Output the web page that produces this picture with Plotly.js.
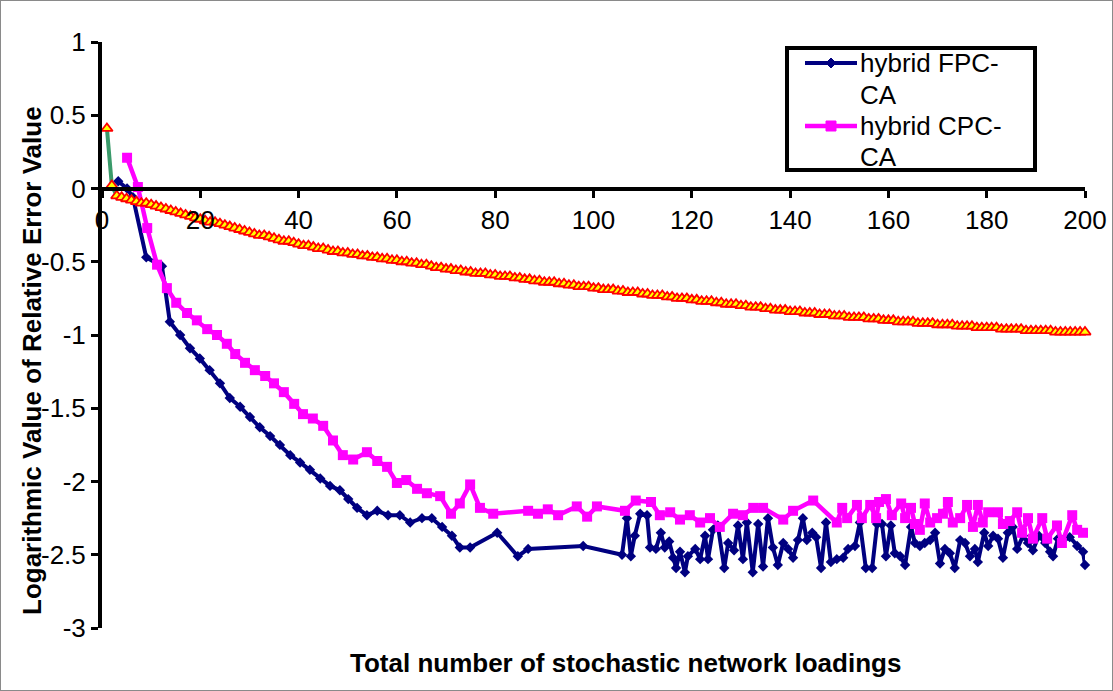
<!DOCTYPE html>
<html>
<head>
<meta charset="utf-8">
<script src="https://cdn.plot.ly/plotly-3.0.1.min.js"></script>
<style>
  html, body { margin: 0; padding: 0; background: #fff; }
  #chart { width: 1113px; height: 691px; }
  #frame { position: fixed; left: 0; top: 0; width: 1113px; height: 691px; box-sizing: border-box; border: 1px solid #8a8a8a; pointer-events: none; }
</style>
</head>
<body>
<div id="chart"></div>
<div id="frame"></div>
<script>
// ---------- data ----------
const fpcX = [3.3, 5.1, 6.3, 9.0, 12.2, 13.8, 15.9, 17.9, 19.9, 21.9, 24.0, 26.0, 28.1, 30.1, 32.1, 34.2, 36.2, 38.3, 40.3, 42.3,
  44.4, 46.4, 48.4, 50.1, 51.9, 53.9, 56.0, 58.2, 60.6, 62.7, 65.1, 67.1, 69.2, 71.2, 72.8, 74.9, 80.4, 84.6, 86.7,
  97.9, 105.8, 106.8, 107.6, 108.4, 109.5, 110.9, 111.5, 112.7, 113.7,
  114.5, 115.4, 116.2, 116.8, 117.6, 118.6, 119.2, 120.7, 121.7, 122.7,
  123.3, 124.3, 125.3, 126.6, 127.4, 128.6, 129.4, 130.4, 131.2, 132.4,
  133.5, 134.5, 135.5, 136.5, 137.5, 138.6, 139.6, 140.6, 141.6, 142.6,
  143.4, 144.5, 145.3, 146.3, 147.3, 148.3, 149.5, 150.8, 151.8, 153.2,
  154.2, 155.4, 156.7, 157.7, 158.7, 159.5, 160.5, 161.3, 162.4, 163.4,
  164.6, 165.4, 166.4, 167.4, 168.5, 169.5, 170.5, 171.5, 172.5, 173.5,
  174.6, 175.6, 176.6, 177.6, 178.2, 179.5, 180.3, 181.3, 182.3, 183.3,
  184.3, 185.3, 186.2, 187.4, 188.4, 189.4, 190.6, 191.9, 192.9, 193.5,
  194.5, 195.5, 196.9, 198.4, 199.6, 200];
const fpcY = [0.05, 0.0, -0.06, -0.47, -0.53, -0.91, -1.0, -1.09, -1.16, -1.24, -1.33, -1.43, -1.49, -1.56, -1.63, -1.69, -1.75, -1.82, -1.87, -1.92,
  -1.98, -2.03, -2.06, -2.12, -2.18, -2.23, -2.20, -2.23, -2.23, -2.28, -2.25, -2.25, -2.31, -2.37, -2.45, -2.45, -2.35, -2.51, -2.46,
  -2.44, -2.50, -2.25, -2.51, -2.37, -2.22, -2.23, -2.45, -2.46, -2.35,
  -2.45, -2.41, -2.52, -2.59, -2.48, -2.62, -2.51, -2.46, -2.53, -2.37,
  -2.53, -2.33, -2.30, -2.59, -2.42, -2.47, -2.30, -2.53, -2.28, -2.62,
  -2.29, -2.58, -2.25, -2.45, -2.57, -2.42, -2.46, -2.52, -2.40, -2.25,
  -2.40, -2.35, -2.38, -2.59, -2.28, -2.55, -2.53, -2.52, -2.46, -2.44,
  -2.28, -2.59, -2.59, -2.29, -2.29, -2.51, -2.30, -2.49, -2.51, -2.57,
  -2.31, -2.42, -2.44, -2.42, -2.40, -2.35, -2.56, -2.46, -2.49, -2.59,
  -2.40, -2.42, -2.51, -2.46, -2.55, -2.35, -2.44, -2.37, -2.39, -2.52,
  -2.35, -2.31, -2.46, -2.37, -2.42, -2.47, -2.37, -2.42, -2.48, -2.51,
  -2.39, -2.40, -2.38, -2.44, -2.48, -2.57];

const cpcX = [5.1, 7.3, 9.2, 11.2, 13.2, 15.1, 17.3, 19.3, 21.4, 23.4,
  25.4, 27.1, 29.1, 31.1, 33.2, 35.0, 37.0, 39.1, 40.9, 42.9,
  45.0, 47.0, 49.0, 51.1, 53.9, 56.0, 58.0, 60.0, 61.9, 64.1,
  66.1, 68.8, 71.0, 72.8, 74.9, 76.9, 79.6, 86.7, 88.7, 90.7,
  92.8, 96.6, 98.7, 100.7, 106.4, 108.6, 111.7, 113.5, 115.6, 117.6,
  119.6, 121.7, 123.7, 125.7, 128.4, 130.4, 132.5, 134.5, 138.6, 140.6,
  144.7, 149.5, 150.6, 151.6, 153.6, 154.6, 156.3, 157.5, 158.1, 159.5,
  160.7, 162.6, 163.4, 164.6, 165.4, 166.4, 167.4, 168.5, 169.9, 171.1,
  172.1, 173.1, 174.6, 176.0, 177.2, 178.2, 179.2, 180.3, 182.3, 183.3,
  184.7, 186.2, 187.2, 188.4, 189.4, 191.3, 192.3, 194.3, 195.3, 197.4,
  198.4, 199.6];
const cpcY = [0.21, 0.01, -0.27, -0.52, -0.68, -0.78, -0.85, -0.90, -0.96, -1.00,
  -1.06, -1.13, -1.19, -1.24, -1.28, -1.33, -1.39, -1.47, -1.54, -1.57,
  -1.62, -1.72, -1.82, -1.85, -1.80, -1.86, -1.90, -2.01, -1.99, -2.05,
  -2.08, -2.10, -2.22, -2.15, -2.02, -2.18, -2.22, -2.20, -2.22, -2.19,
  -2.23, -2.17, -2.24, -2.17, -2.20, -2.13, -2.14, -2.23, -2.21, -2.26,
  -2.23, -2.28, -2.25, -2.31, -2.22, -2.23, -2.18, -2.18, -2.26, -2.20,
  -2.13, -2.28, -2.18, -2.25, -2.16, -2.25, -2.16, -2.25, -2.14, -2.12,
  -2.23, -2.15, -2.25, -2.18, -2.29, -2.33, -2.15, -2.28, -2.25, -2.22,
  -2.14, -2.28, -2.25, -2.16, -2.31, -2.16, -2.28, -2.21, -2.21, -2.29,
  -2.27, -2.21, -2.35, -2.25, -2.39, -2.25, -2.39, -2.30, -2.42, -2.23,
  -2.33, -2.35];

// third (unlabelled) series, one value per loading 1..200
const triY = [0.41, 0.02, -0.05, -0.06, -0.07, -0.08, -0.09, -0.10, -0.10, -0.11,
  -0.12, -0.13, -0.14, -0.15, -0.16, -0.17, -0.18, -0.19, -0.20, -0.21,
  -0.22, -0.23, -0.23, -0.24, -0.25, -0.26, -0.27, -0.28, -0.29, -0.30,
  -0.31, -0.32, -0.32, -0.33, -0.34, -0.35, -0.36, -0.36, -0.37, -0.38,
  -0.39, -0.39, -0.40, -0.41, -0.41, -0.42, -0.43, -0.43, -0.44, -0.44,
  -0.45, -0.45, -0.46, -0.46, -0.47, -0.47, -0.48, -0.48, -0.49, -0.49,
  -0.50, -0.50, -0.51, -0.51, -0.52, -0.52, -0.53, -0.54, -0.54, -0.55,
  -0.55, -0.56, -0.56, -0.57, -0.57, -0.58, -0.58, -0.58, -0.59, -0.59,
  -0.60, -0.60, -0.60, -0.61, -0.61, -0.62, -0.62, -0.63, -0.63, -0.64,
  -0.64, -0.64, -0.65, -0.65, -0.66, -0.66, -0.67, -0.67, -0.67, -0.68,
  -0.68, -0.69, -0.69, -0.69, -0.70, -0.70, -0.71, -0.71, -0.71, -0.72,
  -0.72, -0.73, -0.73, -0.73, -0.74, -0.74, -0.75, -0.75, -0.75, -0.76,
  -0.76, -0.77, -0.77, -0.77, -0.78, -0.78, -0.79, -0.79, -0.79, -0.80,
  -0.80, -0.81, -0.81, -0.81, -0.82, -0.82, -0.83, -0.83, -0.83, -0.84,
  -0.84, -0.84, -0.85, -0.85, -0.85, -0.86, -0.86, -0.86, -0.87, -0.87,
  -0.87, -0.88, -0.88, -0.88, -0.88, -0.89, -0.89, -0.89, -0.90, -0.90,
  -0.90, -0.91, -0.91, -0.91, -0.91, -0.92, -0.92, -0.92, -0.92, -0.93,
  -0.93, -0.93, -0.93, -0.94, -0.94, -0.94, -0.94, -0.95, -0.95, -0.95,
  -0.95, -0.95, -0.96, -0.96, -0.96, -0.96, -0.96, -0.97, -0.97, -0.97,
  -0.97, -0.97, -0.97, -0.98, -0.98, -0.98, -0.98, -0.98, -0.98, -0.98];
const triX = triY.map((_, i) => i + 1);

const seriesNames = ['hybrid FPC-CA', 'hybrid CPC-CA'];
const legendLines = [['hybrid FPC-', 'CA'], ['hybrid CPC-', 'CA']];
const xTickVals = [0, 20, 40, 60, 80, 100, 120, 140, 160, 180, 200];
const yTickVals = [-3, -2.5, -2, -1.5, -1, -0.5, 0, 0.5, 1];
const yTickText = ['-3', '-2.5', '-2', '-1.5', '-1', '-0.5', '0', '0.5', '1'];
const xTitle = 'Total number of stochastic network loadings';
const yTitle = 'Logarithmic Value of Relative Error Value';

// ---------- chart ----------
const FONT = 'Arial, "Liberation Sans", sans-serif';
const NAVY = '#000080', MAGENTA = '#ff00ff';

const traces = [
  {
    x: fpcX, y: fpcY, name: seriesNames[0], type: 'scatter', mode: 'lines+markers',
    line: { color: NAVY, width: 4 },
    marker: { symbol: 'diamond', size: 8, color: NAVY },
    cliponaxis: false
  },
  {
    x: cpcX, y: cpcY, name: seriesNames[1], type: 'scatter', mode: 'lines+markers',
    line: { color: MAGENTA, width: 4.5 },
    marker: { symbol: 'square', size: 10, color: MAGENTA },
    cliponaxis: false
  },
  {
    x: triX, y: triY, name: 'series 3', type: 'scatter', mode: 'lines+markers',
    line: { color: '#3a9a6a', width: 4 },
    marker: { symbol: 'triangle-up', size: 10, color: '#ffff00', line: { color: '#ff0000', width: 1.8 } },
    cliponaxis: false
  }
];

// legend box, drawn in pixel units on an invisible overlay axis pair
const LX0 = 787, LX1 = 1035, LY0 = 48, LY1 = 170;
const rowY = [[63, 95], [126, 157]];
const shapes = [
  { type: 'rect', xref: 'x2', yref: 'y2', x0: LX0, x1: LX1, y0: LY0, y1: LY1,
    line: { color: '#000000', width: 4 }, fillcolor: '#ffffff', layer: 'above' },
  { type: 'line', xref: 'x2', yref: 'y2', x0: 805, x1: 857, y0: rowY[0][0], y1: rowY[0][0],
    line: { color: NAVY, width: 4 }, layer: 'above' },
  { type: 'path', xref: 'x2', yref: 'y2', layer: 'above',
    path: `M826,${rowY[0][0]} L831,${rowY[0][0] - 5} L836,${rowY[0][0]} L831,${rowY[0][0] + 5} Z`,
    fillcolor: NAVY, line: { color: NAVY, width: 1 } },
  { type: 'line', xref: 'x2', yref: 'y2', x0: 805, x1: 857, y0: rowY[1][0], y1: rowY[1][0],
    line: { color: MAGENTA, width: 4.5 }, layer: 'above' },
  { type: 'rect', xref: 'x2', yref: 'y2', x0: 826, x1: 836, y0: rowY[1][0] - 5, y1: rowY[1][0] + 5,
    fillcolor: MAGENTA, line: { color: MAGENTA, width: 1 }, layer: 'above' }
];

const annotations = [
  {
    text: '<b>' + xTitle + '</b>', xref: 'paper', yref: 'paper',
    x: (625 - 102) / 983, y: -(663 - 628) / 586, xanchor: 'center', yanchor: 'middle',
    showarrow: false, font: { family: FONT, size: 26, color: '#000000' }
  },
  {
    text: '<b>' + yTitle + '</b>', xref: 'paper', yref: 'paper', textangle: -90,
    x: -(102 - 32) / 983, y: (628 - 361) / 586, xanchor: 'center', yanchor: 'middle',
    showarrow: false, font: { family: FONT, size: 26, color: '#000000' }
  }
];
legendLines.forEach((lines, i) => {
  lines.forEach((t, j) => {
    annotations.push({
      text: t, xref: 'x2', yref: 'y2', x: 858, y: rowY[i][j],
      xanchor: 'left', yanchor: 'middle', showarrow: false,
      font: { family: FONT, size: 26, color: '#000000' }
    });
  });
});

const layout = {
  width: 1113, height: 691,
  margin: { l: 102, r: 28, t: 42, b: 63, pad: 0 },
  paper_bgcolor: '#ffffff', plot_bgcolor: '#ffffff',
  font: { family: FONT, color: '#000000', size: 26 },
  showlegend: false,
  xaxis: {
    range: [0, 200], anchor: 'free', position: 0.75,
    showline: true, linecolor: '#000000', linewidth: 4,
    ticks: 'outside', ticklen: 7, tickwidth: 3, tickcolor: '#000000',
    tickmode: 'array', tickvals: xTickVals,
    tickfont: { family: FONT, size: 26, color: '#000000' },
    showgrid: false, zeroline: false
  },
  yaxis: {
    range: [-3, 1],
    showline: true, linecolor: '#000000', linewidth: 4,
    ticks: 'outside', ticklen: 7, tickwidth: 3, tickcolor: '#000000',
    tickmode: 'array', tickvals: yTickVals, ticktext: yTickText,
    tickfont: { family: FONT, size: 26, color: '#000000' },
    showgrid: false, zeroline: false
  },
  xaxis2: { overlaying: 'x', anchor: 'y2', range: [102, 1085], visible: false, fixedrange: true },
  yaxis2: { overlaying: 'y', anchor: 'x2', range: [628, 42], visible: false, fixedrange: true },
  shapes: shapes,
  annotations: annotations
};

Plotly.newPlot('chart', traces, layout, { displayModeBar: false, staticPlot: true });
</script>
</body>
</html>
